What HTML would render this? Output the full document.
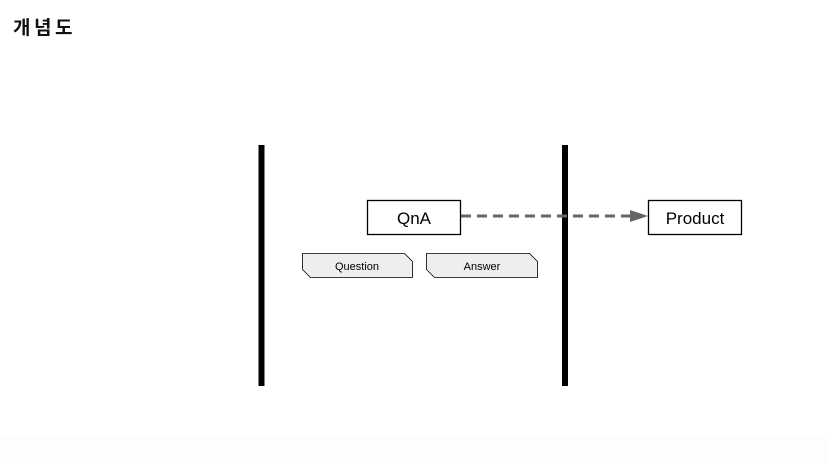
<!DOCTYPE html>
<html><head><meta charset="utf-8"><style>
body{margin:0;width:829px;height:464px;background:#fff;overflow:hidden}
</style></head><body>
<svg width="829" height="464" xmlns="http://www.w3.org/2000/svg" font-family="Liberation Sans, Arial, sans-serif">
<rect x="0" y="435" width="829" height="29" fill="#fdfdfd"/>
<text x="13" y="34" font-size="19" letter-spacing="3.5" font-weight="bold" font-family="Liberation Sans, Noto Sans CJK KR, sans-serif" fill="#111">개념도</text>
<rect x="258.5" y="145" width="6" height="241" fill="#000"/>
<rect x="562" y="145" width="6" height="241" fill="#000"/>
<line x1="461" y1="216" x2="632" y2="216" stroke="#666" stroke-width="3" stroke-dasharray="10,6"/>
<polygon points="630,210 648,216 630,222" fill="#666"/>
<rect x="367.5" y="200.5" width="93" height="34" fill="#fff" stroke="#000" stroke-width="1.3"/>
<text x="414" y="224" font-size="17" text-anchor="middle">QnA</text>
<rect x="648.5" y="200.5" width="93" height="34" fill="#fff" stroke="#000" stroke-width="1.3"/>
<text x="695" y="224" font-size="17" text-anchor="middle">Product</text>
<polygon points="302.5,253.5 404.5,253.5 412.5,261.5 412.5,277.5 310.5,277.5 302.5,269.5" fill="#eee" stroke="#000" stroke-width="0.8"/>
<text x="357" y="270" font-size="11" text-anchor="middle">Question</text>
<polygon points="426.5,253.5 529.5,253.5 537.5,261.5 537.5,277.5 434.5,277.5 426.5,269.5" fill="#eee" stroke="#000" stroke-width="0.8"/>
<text x="482" y="270" font-size="11" text-anchor="middle">Answer</text>
</svg>
</body></html>
